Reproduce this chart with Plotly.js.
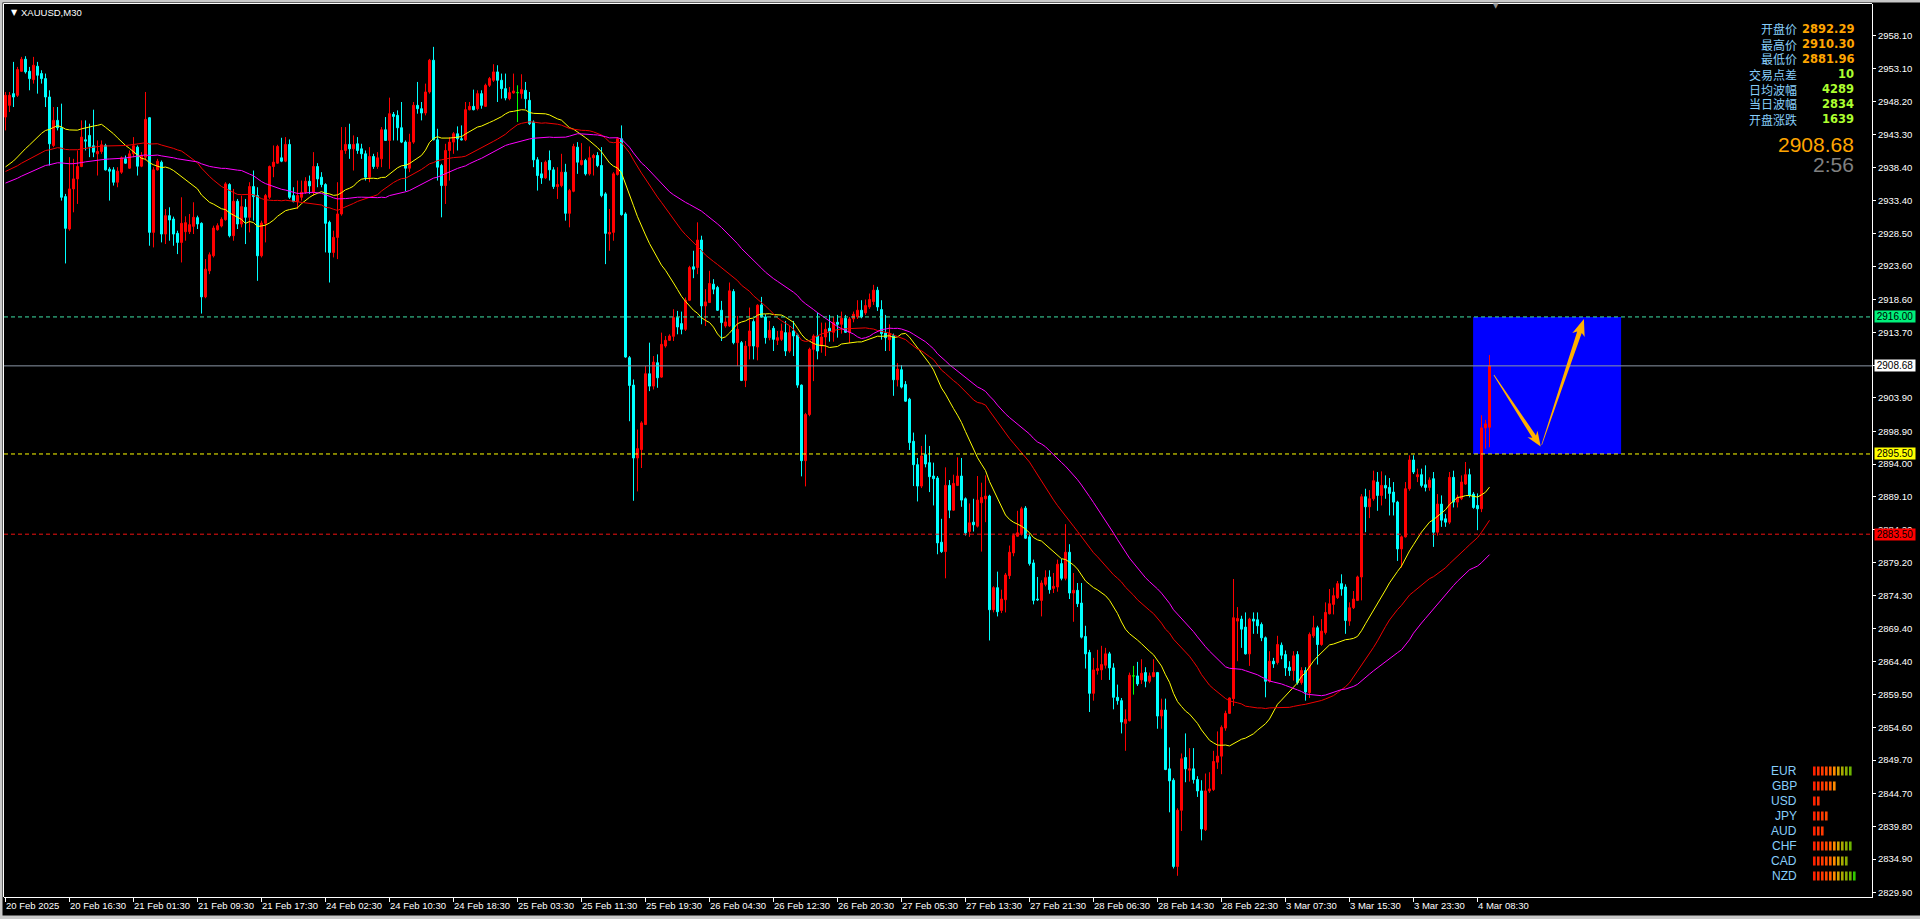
<!DOCTYPE html>
<html><head><meta charset="utf-8">
<script src="https://cdn.plot.ly/plotly-3.0.1.min.js"></script>
<style>html,body{margin:0;padding:0;background:#000;overflow:hidden}#chart{width:1920px;height:919px}</style>
</head><body><div id="chart"></div>
<script>
// ---------------- DATA ----------------
const openP = [
2945.9,2947.65,2949.4,2949.15,2952.75,2954.55,2952.75,2951.5,2953.5,2952.4,
2951.65,2948.9,2941.65,2945.4,2944.3,2934.0,2929.15,2935.15,2936.65,2938.5,
2942.5,2943.15,2941.6,2940.4,2940.75,2941.65,2938.1,2938.0,2936.15,2937.65,
2939.65,2938.25,2940.4,2941.4,2938.55,2939.9,2945.8,2928.65,2938.0,2939.15,
2928.4,2931.15,2930.65,2928.5,2927.15,2928.75,2928.75,2929.55,2930.85,2930.0,
2919.0,2922.9,2925.15,2929.05,2929.6,2930.55,2935.8,2928.15,2933.3,2929.9,
2932.4,2930.9,2935.5,2934.15,2925.15,2930.0,2933.9,2938.5,2939.0,2939.8,
2939.3,2941.8,2934.15,2933.25,2933.9,2934.65,2936.3,2934.65,2938.5,2936.9,
2935.8,2930.15,2925.65,2927.9,2931.4,2940.9,2941.8,2941.15,2941.9,2941.15,
2940.4,2936.9,2940.0,2938.5,2939.65,2944.0,2942.4,2946.3,2946.15,2944.3,
2942.15,2938.25,2942.15,2947.65,2947.15,2946.5,2949.65,2954.4,2942.5,2938.65,
2935.65,2940.9,2942.15,2943.4,2942.65,2942.5,2947.0,2947.5,2947.15,2949.4,
2947.5,2950.65,2951.4,2952.65,2951.4,2950.15,2948.65,2949.5,2949.55,2949.4,
2949.9,2948.4,2945.15,2939.5,2937.4,2936.8,2939.4,2938.0,2935.5,2935.65,
2937.65,2931.5,2934.8,2941.4,2938.8,2939.4,2937.4,2939.8,2940.15,2938.65,
2934.4,2928.4,2928.65,2937.3,2942.65,2931.4,2909.9,2905.8,2894.9,2896.15,
2899.9,2907.5,2905.65,2909.15,2907.0,2911.65,2912.5,2913.1,2915.9,2915.0,
2914.15,2918.5,2923.5,2923.4,2927.5,2917.65,2918.15,2920.9,2920.4,2917.0,
2914.65,2914.65,2919.8,2912.15,2912.15,2906.5,2911.65,2915.3,2911.5,2917.8,
2916.0,2912.9,2914.3,2912.5,2912.65,2913.65,2910.9,2913.9,2913.3,2905.8,
2894.5,2901.4,2911.15,2913.15,2911.65,2913.0,2914.3,2913.7,2915.2,2914.9,
2915.8,2913.7,2915.7,2916.0,2917.0,2916.6,2917.5,2918.3,2920.0,2917.1,
2913.6,2912.6,2913.2,2906.6,2908.1,2905.9,2903.7,2897.4,2893.9,2890.7,
2895.4,2894.2,2892.2,2891.9,2882.3,2880.9,2890.8,2887.1,2890.8,2892.2,
2888.8,2883.9,2885.3,2884.7,2888.2,2888.8,2889.2,2872.2,2875.5,2872.1,
2873.7,2877.3,2880.7,2883.2,2883.6,2887.4,2883.1,2879.2,2873.8,2873.6,
2876.0,2877.1,2875.4,2875.6,2879.1,2876.9,2880.8,2874.7,2875.1,2873.2,
2868.2,2865.8,2859.7,2863.1,2863.2,2863.9,2865.6,2863.5,2859.1,2858.6,
2855.2,2855.6,2862.3,2862.3,2861.7,2862.8,2861.5,2862.2,2862.8,2856.3,
2857.2,2848.4,2846.7,2833.8,2842.2,2850.1,2848.2,2848.4,2846.8,2845.1,
2839.3,2845.1,2845.3,2849.4,2850.3,2854.5,2856.7,2858.9,2870.5,2870.8,
2869.6,2865.6,2870.8,2870.7,2870.0,2868.0,2861.5,2864.5,2864.3,2866.9,
2865.5,2863.6,2863.1,2865.5,2861.3,2863.1,2859.8,2868.3,2869.5,2867.0,
2868.8,2871.6,2873.0,2874.0,2876.1,2875.6,2870.5,2872.5,2873.6,2877.1,
2889.1,2887.6,2888.8,2891.3,2889.3,2890.8,2890.5,2889.8,2888.3,2881.3,
2883.1,2890.3,2894.6,2892.1,2892.4,2890.9,2890.5,2891.8,2883.8,2888.0,
2885.8,2885.3,2892.0,2888.3,2888.8,2891.0,2892.4,2889.5,2887.8,2887.3,
2899.4,2899.5];
const highP = [
2949.65,2949.65,2954.15,2953.4,2954.9,2955.0,2953.4,2954.9,2954.15,2952.9,
2952.4,2949.9,2947.4,2947.4,2947.9,2934.4,2939.9,2939.65,2940.9,2945.4,
2945.4,2944.9,2947.0,2942.4,2942.4,2941.9,2938.4,2938.4,2938.4,2940.0,
2940.15,2940.9,2942.9,2941.65,2940.65,2949.65,2945.9,2938.4,2939.65,2939.4,
2932.15,2932.4,2931.0,2928.9,2933.9,2931.05,2931.4,2933.15,2931.15,2930.15,
2924.65,2925.65,2929.65,2930.0,2930.9,2936.15,2936.0,2935.15,2933.65,2934.15,
2933.65,2936.15,2937.9,2935.4,2930.4,2934.4,2938.65,2941.65,2941.75,2942.8,
2942.9,2942.55,2935.4,2936.4,2936.4,2936.9,2937.15,2940.65,2939.0,2937.65,
2936.0,2930.4,2928.9,2936.15,2944.4,2944.4,2944.9,2943.15,2942.9,2941.9,
2940.9,2941.4,2940.4,2940.65,2944.4,2945.9,2948.8,2946.65,2946.9,2948.15,
2942.4,2943.4,2948.15,2951.15,2948.15,2950.9,2954.6,2956.4,2944.15,2938.9,
2941.9,2942.9,2943.65,2944.5,2944.65,2948.15,2948.15,2950.0,2949.9,2949.9,
2950.9,2951.9,2953.8,2953.65,2952.4,2952.4,2950.4,2952.4,2950.65,2952.3,
2951.15,2949.65,2945.4,2939.9,2939.15,2939.4,2940.9,2938.4,2938.4,2940.4,
2938.9,2935.15,2941.9,2942.15,2942.0,2939.65,2941.5,2940.4,2940.65,2941.4,
2934.65,2932.15,2937.65,2942.9,2944.65,2931.65,2910.15,2906.65,2899.15,2900.4,
2908.65,2912.15,2910.15,2910.4,2913.65,2913.15,2913.4,2917.15,2916.9,2916.8,
2918.9,2923.65,2925.9,2930.15,2928.15,2920.15,2922.9,2921.65,2920.65,2918.4,
2915.9,2921.15,2920.15,2916.15,2912.4,2912.4,2917.4,2915.65,2917.9,2919.0,
2916.4,2915.4,2914.65,2913.9,2915.0,2915.4,2914.65,2915.4,2913.5,2905.9,
2901.65,2911.4,2913.4,2916.65,2915.15,2915.15,2916.3,2916.0,2916.3,2916.8,
2916.3,2916.0,2916.8,2918.5,2918.5,2918.6,2919.5,2920.8,2920.5,2918.5,
2916.3,2914.9,2913.5,2909.1,2908.8,2906.4,2903.9,2898.7,2894.9,2896.7,
2898.4,2896.7,2894.2,2892.2,2885.8,2893.5,2891.6,2892.4,2895.0,2894.9,
2889.0,2888.1,2888.8,2892.2,2891.2,2892.3,2889.4,2875.7,2877.9,2875.2,
2877.7,2881.8,2883.6,2887.0,2887.6,2887.7,2883.6,2879.7,2877.1,2876.6,
2878.1,2878.1,2877.7,2879.7,2879.8,2885.0,2882.0,2877.7,2876.2,2876.2,
2869.8,2866.2,2865.0,2866.2,2866.8,2866.5,2865.9,2864.2,2861.0,2859.0,
2857.3,2862.8,2863.8,2864.4,2864.8,2863.6,2862.8,2864.8,2862.9,2858.9,
2858.9,2851.6,2847.0,2842.5,2850.7,2853.7,2851.5,2851.5,2847.3,2846.7,
2847.7,2847.9,2851.1,2854.0,2854.9,2857.1,2859.1,2876.8,2872.6,2871.3,
2871.8,2871.0,2871.8,2871.8,2870.3,2868.2,2866.0,2865.0,2868.3,2867.3,
2866.1,2864.5,2866.0,2866.0,2863.6,2863.6,2868.8,2871.3,2869.8,2870.8,
2873.3,2875.3,2875.5,2876.5,2877.5,2876.0,2873.3,2875.0,2877.3,2889.5,
2890.3,2890.1,2893.0,2892.8,2892.9,2892.3,2891.9,2891.3,2888.5,2883.3,
2891.3,2895.3,2895.3,2893.3,2893.3,2893.8,2892.0,2892.8,2889.5,2889.3,
2886.5,2892.8,2893.0,2889.4,2892.3,2894.3,2893.3,2889.8,2889.6,2901.3,
2900.6,2910.3];
const lowP = [
2943.9,2946.65,2947.4,2948.9,2952.65,2952.4,2949.9,2950.9,2949.4,2950.9,
2947.4,2938.65,2941.4,2943.9,2933.4,2924.0,2928.9,2931.65,2932.9,2938.4,
2940.9,2939.9,2939.9,2937.15,2940.4,2937.9,2933.4,2935.65,2935.4,2937.4,
2938.9,2938.15,2939.9,2937.15,2938.4,2939.4,2926.65,2926.4,2937.9,2927.15,
2926.9,2927.4,2926.65,2925.4,2924.15,2927.4,2928.4,2928.4,2929.15,2916.5,
2918.8,2922.4,2924.9,2928.9,2929.4,2930.4,2927.9,2927.4,2929.15,2929.4,
2926.9,2928.65,2930.4,2921.4,2924.9,2927.15,2933.65,2936.9,2938.9,2939.15,
2939.15,2933.65,2933.15,2932.15,2933.4,2934.4,2934.4,2934.15,2935.4,2935.4,
2925.65,2921.15,2924.9,2924.65,2931.15,2940.4,2939.65,2937.9,2940.4,2939.65,
2936.4,2936.15,2938.15,2938.15,2938.4,2942.4,2938.15,2942.4,2942.4,2942.0,
2934.8,2937.65,2941.9,2946.4,2945.4,2946.15,2949.4,2942.4,2936.4,2930.9,
2932.9,2936.4,2940.4,2940.9,2942.4,2942.3,2946.9,2946.9,2946.9,2947.15,
2947.4,2950.4,2951.15,2948.15,2948.65,2948.4,2948.4,2949.4,2945.15,2948.65,
2947.15,2944.7,2938.4,2934.9,2935.9,2936.65,2936.4,2935.15,2933.65,2935.4,
2930.4,2929.4,2934.65,2937.4,2938.65,2937.15,2937.15,2937.15,2938.4,2933.9,
2923.9,2925.9,2927.4,2937.15,2931.15,2909.9,2900.4,2888.5,2889.9,2893.4,
2899.9,2904.9,2905.15,2905.4,2906.9,2911.4,2912.4,2912.4,2913.4,2913.4,
2913.9,2918.4,2921.8,2922.4,2914.9,2914.65,2918.15,2919.4,2916.9,2912.4,
2914.4,2914.5,2911.9,2908.65,2906.4,2905.5,2909.65,2909.65,2909.5,2915.9,
2912.0,2912.5,2910.9,2911.8,2912.4,2910.15,2910.65,2910.15,2905.4,2892.15,
2890.65,2901.15,2906.4,2909.65,2910.65,2910.15,2912.3,2912.3,2912.9,2913.5,
2913.6,2912.1,2915.2,2915.7,2915.8,2916.3,2917.2,2917.8,2916.9,2912.6,
2910.9,2910.9,2904.2,2905.6,2905.3,2903.3,2896.1,2890.7,2888.4,2890.4,
2893.5,2889.8,2887.8,2880.5,2880.7,2876.9,2885.9,2887.0,2890.7,2887.6,
2883.3,2883.1,2883.9,2884.5,2880.9,2885.3,2867.6,2871.8,2871.2,2871.7,
2871.8,2876.8,2880.2,2883.1,2883.3,2882.8,2878.8,2873.0,2873.5,2871.2,
2875.7,2874.6,2874.7,2874.9,2876.6,2876.6,2873.8,2870.4,2872.6,2867.9,
2863.4,2856.9,2858.6,2862.5,2861.7,2863.4,2861.7,2857.3,2858.0,2853.7,
2851.1,2855.5,2859.5,2860.8,2861.1,2860.6,2861.2,2862.1,2854.4,2854.4,
2848.2,2841.9,2833.5,2832.4,2839.1,2846.4,2846.5,2846.2,2844.2,2837.7,
2839.1,2844.8,2845.1,2848.4,2847.6,2854.1,2856.6,2857.8,2864.5,2866.5,
2865.5,2863.8,2868.6,2868.6,2867.5,2859.1,2861.3,2863.5,2864.0,2864.8,
2862.3,2862.3,2861.6,2861.0,2861.0,2858.6,2859.0,2868.0,2864.0,2866.8,
2868.5,2871.5,2871.5,2873.8,2874.3,2868.6,2869.8,2872.3,2873.5,2873.6,
2883.8,2885.9,2888.5,2887.0,2887.8,2888.8,2886.3,2886.3,2879.5,2878.5,
2883.0,2890.0,2892.5,2891.3,2890.5,2889.9,2890.0,2881.6,2883.3,2884.6,
2884.6,2885.0,2887.5,2887.5,2888.6,2890.9,2889.0,2887.3,2884.1,2886.8,
2896.3,2896.5];
const closeP = [
2949.15,2949.15,2948.9,2953.0,2954.55,2952.65,2951.65,2953.65,2952.15,2951.65,
2948.9,2941.9,2945.4,2944.3,2933.9,2929.25,2935.15,2936.65,2938.5,2942.9,
2942.3,2941.5,2940.65,2940.75,2941.75,2938.0,2937.8,2936.15,2937.8,2939.8,
2939.0,2940.4,2941.6,2938.55,2940.15,2945.55,2928.65,2938.0,2939.3,2928.4,
2931.15,2930.5,2928.4,2927.15,2930.0,2930.1,2929.8,2930.9,2929.9,2919.0,
2923.15,2925.3,2929.3,2929.65,2930.6,2935.9,2928.15,2933.3,2929.9,2932.5,
2930.9,2935.5,2934.0,2925.15,2930.05,2934.15,2938.5,2939.15,2941.5,2939.3,
2941.8,2933.9,2933.25,2934.15,2934.65,2936.3,2935.6,2938.5,2936.65,2935.8,
2930.0,2925.65,2927.9,2931.4,2940.9,2941.8,2941.15,2941.8,2940.9,2940.4,
2936.9,2940.0,2938.5,2939.8,2944.0,2942.4,2946.4,2946.0,2944.3,2942.15,
2938.25,2942.15,2947.65,2947.15,2946.5,2949.65,2954.4,2942.5,2938.4,2935.65,
2940.9,2942.15,2943.4,2942.65,2942.5,2947.0,2947.5,2947.0,2949.4,2947.65,
2950.65,2951.65,2952.65,2951.4,2950.15,2948.75,2949.55,2949.8,2949.55,2950.0,
2948.65,2944.9,2939.5,2937.15,2936.8,2939.15,2938.0,2935.5,2935.8,2937.65,
2931.5,2934.9,2941.5,2939.15,2939.4,2937.4,2939.8,2940.15,2938.65,2934.15,
2928.5,2928.65,2937.4,2942.65,2931.3,2910.0,2905.75,2894.9,2896.3,2900.15,
2907.5,2905.65,2909.25,2906.9,2911.9,2912.5,2913.15,2915.9,2914.5,2914.15,
2918.5,2923.4,2923.15,2927.5,2917.65,2918.25,2921.0,2920.15,2917.0,2915.15,
2915.25,2919.9,2912.15,2914.15,2906.5,2911.65,2913.9,2911.65,2917.75,2916.0,
2912.9,2914.0,2912.65,2912.9,2913.9,2910.9,2913.65,2913.15,2905.8,2894.5,
2901.4,2911.15,2913.15,2910.9,2913.0,2914.15,2913.8,2915.2,2914.9,2915.8,
2913.7,2915.7,2916.4,2917.0,2916.0,2917.7,2918.6,2920.0,2917.5,2913.5,
2912.9,2913.5,2906.6,2908.2,2905.5,2903.4,2897.2,2893.9,2890.7,2895.2,
2894.0,2892.1,2891.8,2882.2,2880.9,2890.8,2887.1,2891.1,2892.2,2888.6,
2883.7,2885.2,2884.9,2888.6,2889.0,2889.2,2872.2,2875.5,2871.9,2873.8,
2877.4,2880.8,2883.3,2883.7,2887.3,2882.9,2879.1,2873.6,2873.7,2876.2,
2877.0,2875.2,2875.7,2879.0,2876.9,2880.8,2874.7,2875.1,2873.1,2868.1,
2865.6,2859.7,2863.2,2863.4,2864.0,2865.6,2863.5,2859.1,2858.6,2855.4,
2855.8,2862.4,2862.3,2861.1,2862.7,2861.5,2862.3,2862.8,2856.3,2857.2,
2848.3,2846.6,2833.8,2842.2,2849.9,2848.4,2848.4,2846.8,2845.1,2839.4,
2845.1,2845.4,2849.5,2850.3,2854.6,2856.7,2859.0,2871.0,2870.9,2869.3,
2865.6,2870.8,2870.5,2869.8,2868.0,2861.5,2864.5,2864.1,2867.0,2865.4,
2863.5,2863.1,2865.3,2861.3,2863.1,2859.9,2868.5,2869.5,2867.0,2869.0,
2871.8,2873.1,2874.3,2876.1,2875.3,2870.6,2872.5,2873.8,2877.1,2889.1,
2887.6,2888.8,2891.5,2889.3,2890.8,2890.4,2889.6,2888.3,2881.3,2883.1,
2890.3,2894.6,2892.8,2892.4,2890.8,2890.5,2891.6,2883.8,2888.0,2885.6,
2885.3,2892.0,2888.3,2889.0,2891.3,2892.4,2889.3,2887.5,2887.3,2899.4,
2900.0,2908.68];

const timeLabels = ['20 Feb 2025','20 Feb 16:30','21 Feb 01:30','21 Feb 09:30','21 Feb 17:30','24 Feb 02:30',
 '24 Feb 10:30','24 Feb 18:30','25 Feb 03:30','25 Feb 11:30','25 Feb 19:30','26 Feb 04:30','26 Feb 12:30',
 '26 Feb 20:30','27 Feb 05:30','27 Feb 13:30','27 Feb 21:30','28 Feb 06:30','28 Feb 14:30','28 Feb 22:30',
 '3 Mar 07:30','3 Mar 15:30','3 Mar 23:30','4 Mar 08:30'];
const barsPerLabel = 16;
const priceTicks = [2958.10,2953.10,2948.20,2943.30,2938.40,2933.40,2928.50,2923.60,2918.60,2913.70,2908.80,
 2903.90,2898.90,2894.00,2889.10,2884.20,2879.20,2874.30,2869.40,2864.40,2859.50,2854.60,2849.70,2844.70,
 2839.80,2834.90,2829.90];

// moving averages: period and estimated mean of the unseen earlier closes
const maPeriods = [25, 45, 60];
const maPriorMeans = [2938.0, 2937.5, 2935.8];
const maColors = ['#ffff00', '#f00000', '#ff00ff'];

// horizontal lines
const hLinePrices = [2916.00, 2908.68, 2895.50, 2883.50];
const hLineColors = ['#3ee0a6', '#8c96a6', '#ffff00', '#f01010'];
const hLineLabelBg = ['#00f07a', '#ffffff', '#ffff00', '#ff0000'];
const hLineDash = ['4px,3px', 'solid', '4px,3px', '4px,3px'];

// zone rectangle (bar index, price)
const zoneBars = [366.9, 403.9];
const zonePrices = [2895.5, 2916.0];
// arrows: [tailBar, tailPrice, tipBar, tipPrice]
const arrow1 = [372.1, 2907.3, 383.8, 2896.6];
const arrow2 = [384.05, 2896.85, 394.6, 2915.7];

// info panel
const infoLabels = ['开盘价','最高价','最低价','交易点差','日均波幅','当日波幅','开盘涨跌'];
const infoValues = ['2892.29','2910.30','2881.96','10','4289','2834','1639'];
const infoValueColors = ['#ffa500','#ffa500','#ffa500','#adff2f','#adff2f','#adff2f','#adff2f'];
const bidPrice = '2908.68';
const barTimer = '2:56';

// currency strength
const currencies = ['EUR','GBP','USD','JPY','AUD','CHF','CAD','NZD'];
const strength = [10,6,2,4,3,10,9,11];
const strengthColors = ['#ff2200','#ff3000','#ff3a00','#ff4800','#ff6000','#ff8c00','#d2a400','#a8aa00','#88aa00','#6cb400','#33c800'];

// ---------------- GEOMETRY ----------------
const W = 1920, H = 919;
const M = {l: 4, r: 48, t: 4, b: 22};
const PW = W - M.l - M.r, PH = H - M.t - M.b;
const xr = [-0.375, 466.625];
const yr = [2829.23, 2962.81];
const PX = x => (x - M.l) / PW;
const PY = y => 1 - (y - M.t) / PH;
const Xp = b => M.l + (b - xr[0]) * PW / (xr[1] - xr[0]);
const Yp = p => M.t + (yr[1] - p) * PH / (yr[1] - yr[0]);
const Bx = x => xr[0] + (x - M.l) * (xr[1] - xr[0]) / PW;
const Py = y => yr[1] - (y - M.t) * (yr[1] - yr[0]) / PH;

const n = closeP.length;
if (openP.length !== n || highP.length !== n || lowP.length !== n) {
  throw new Error('length mismatch ' + [openP.length, highP.length, lowP.length, n].join(','));
}
const idx = closeP.map((_, i) => i);

// split dojis
const isDoji = idx.map(i => openP[i] === closeP[i]);
const pick = (arr, want) => arr.map((v, i) => isDoji[i] === want ? v : null);

const traces = [];
traces.push({
  type: 'candlestick', x: idx,
  open: pick(openP, false), high: pick(highP, false), low: pick(lowP, false), close: pick(closeP, false),
  increasing: {line: {color: '#ff0000', width: 1}, fillcolor: '#ff0000'},
  decreasing: {line: {color: '#00ffff', width: 1}, fillcolor: '#00ffff'},
  whiskerwidth: 0, hoverinfo: 'skip'
});
traces.push({
  type: 'candlestick', x: idx,
  open: pick(openP, true), high: pick(highP, true), low: pick(lowP, true), close: pick(closeP, true),
  increasing: {line: {color: '#00ff00', width: 1}, fillcolor: '#00ff00'},
  decreasing: {line: {color: '#00ff00', width: 1}, fillcolor: '#00ff00'},
  whiskerwidth: 0, hoverinfo: 'skip'
});

function sma(src, period, prior) {
  return src.map((_, i) => {
    let s = 0;
    for (let k = i - period + 1; k <= i; k++) s += k < 0 ? prior : src[k];
    return s / period;
  });
}
maPeriods.forEach((p, j) => {
  traces.push({type: 'scatter', mode: 'lines', x: idx, y: sma(closeP, p, maPriorMeans[j]),
    line: {color: maColors[j], width: 1}, hoverinfo: 'skip'});
});

// ---------------- SHAPES ----------------
const shapes = [];
shapes.push({type: 'rect', xref: 'x', yref: 'y', x0: zoneBars[0], x1: zoneBars[1], y0: zonePrices[0], y1: zonePrices[1],
  fillcolor: '#0000ff', line: {width: 0}, layer: 'below'});
hLinePrices.forEach((p, j) => {
  shapes.push({type: 'line', xref: 'paper', yref: 'y', x0: 0, x1: 1, y0: p, y1: p,
    line: {color: hLineColors[j], width: 1, dash: hLineDash[j]}, layer: 'above'});
});
function taperArrow(a, w0, w1, headLen, headHalf) {
  const x0 = Xp(a[0]), y0 = Yp(a[1]), x1 = Xp(a[2]), y1 = Yp(a[3]);
  const dx = x1 - x0, dy = y1 - y0, len = Math.hypot(dx, dy);
  const ux = dx / len, uy = dy / len, nx = -uy, ny = ux;
  const bx = x1 - ux * headLen, by = y1 - uy * headLen;
  const back = 3;
  const pts = [
    [x0 + nx * w0, y0 + ny * w0],
    [bx + nx * w1, by + ny * w1],
    [bx - ux * back + nx * headHalf, by - uy * back + ny * headHalf],
    [x1, y1],
    [bx - ux * back - nx * headHalf, by - uy * back - ny * headHalf],
    [bx - nx * w1, by - ny * w1],
    [x0 - nx * w0, y0 - ny * w0]
  ];
  return 'M ' + pts.map(q => Bx(q[0]).toFixed(4) + ',' + Py(q[1]).toFixed(4)).join(' L ') + ' Z';
}
[[arrow1, 0.4, 2.2, 12, 6], [arrow2, 0.3, 2.4, 14, 6.5]].forEach(s => {
  shapes.push({type: 'path', xref: 'x', yref: 'y', path: taperArrow(s[0], s[1], s[2], s[3], s[4]),
    fillcolor: '#ffb000', line: {width: 0}, layer: 'above'});
});
const grey = '#c8c8c8';
shapes.push({type: 'rect', xref: 'paper', yref: 'paper', x0: PX(0), x1: PX(W), y0: PY(0), y1: PY(2.5), fillcolor: grey, line: {width: 0}});
shapes.push({type: 'rect', xref: 'paper', yref: 'paper', x0: PX(0), x1: PX(2.5), y0: PY(0), y1: PY(H), fillcolor: grey, line: {width: 0}});
shapes.push({type: 'rect', xref: 'paper', yref: 'paper', x0: PX(0), x1: PX(W), y0: PY(915.5), y1: PY(H), fillcolor: grey, line: {width: 0}});
shapes.push({type: 'line', xref: 'paper', yref: 'paper', x0: PX(3.5), x1: PX(1872), y0: PY(3.5), y1: PY(3.5), line: {color: '#ffffff', width: 1}});
shapes.push({type: 'line', xref: 'paper', yref: 'paper', x0: PX(3.5), x1: PX(3.5), y0: PY(3.5), y1: PY(897), line: {color: '#ffffff', width: 1}});
currencies.forEach((c, r) => {
  const yc = 771 + r * 15;
  for (let k = 0; k < strength[r]; k++) {
    const x0 = 1813 + k * 4;
    shapes.push({type: 'rect', xref: 'paper', yref: 'paper', x0: PX(x0), x1: PX(x0 + 2.6),
      y0: PY(yc - 4.5), y1: PY(yc + 4.5), fillcolor: strengthColors[k], line: {width: 0}});
  }
});

// ---------------- ANNOTATIONS ----------------
const ann = [];
const A = (o) => ann.push(Object.assign({xref: 'paper', yref: 'paper', showarrow: false}, o));
A({x: PX(9), y: PY(13), xanchor: 'left', yanchor: 'middle', text: '▼', font: {family: 'DejaVu Sans', size: 8, color: '#ffffff'}});
A({x: PX(19), y: PY(13), xanchor: 'left', yanchor: 'middle', text: 'XAUUSD,M30', font: {family: 'Liberation Sans', size: 9.5, color: '#ffffff'}});
A({x: PX(1496), y: PY(6), xanchor: 'center', yanchor: 'middle', text: '▼', font: {family: 'DejaVu Sans', size: 7, color: '#909090'}});
infoLabels.forEach((t, r) => {
  const y = 29 + r * 15;
  A({x: PX(1799), y: PY(y), xanchor: 'right', yanchor: 'middle', text: t, font: {family: 'Noto Sans CJK SC', size: 12, color: '#87cefa'}});
  A({x: PX(1856), y: PY(y), xanchor: 'right', yanchor: 'middle', text: '<b>' + infoValues[r] + '</b>', font: {family: 'DejaVu Sans', size: 11.5, color: infoValueColors[r]}});
});
A({x: PX(1856), y: PY(144), xanchor: 'right', yanchor: 'middle', text: bidPrice, font: {family: 'Liberation Sans', size: 21, color: '#ffa500'}});
A({x: PX(1856), y: PY(164.5), xanchor: 'right', yanchor: 'middle', text: barTimer, font: {family: 'Liberation Sans', size: 21, color: '#808080'}});
currencies.forEach((c, r) => {
  A({x: PX(1799), y: PY(771 + r * 15), xanchor: 'right', yanchor: 'middle', text: c, font: {family: 'Liberation Sans', size: 12, color: '#87cefa'}});
});
hLinePrices.forEach((p, j) => {
  ann.push({xref: 'paper', yref: 'y', x: PX(1874), y: p, xanchor: 'left', yanchor: 'middle', showarrow: false,
    text: p.toFixed(2), width: 40, height: 11, bgcolor: hLineLabelBg[j], borderpad: 0,
    font: {family: 'Liberation Sans', size: 10, color: '#000000'}});
});
// time labels, starting at their tick
timeLabels.forEach((t, k) => {
  ann.push({xref: 'x', yref: 'paper', x: k * barsPerLabel, y: PY(905.5), xanchor: 'left', yanchor: 'middle', xshift: -2,
    showarrow: false, text: t, font: {family: 'Liberation Sans', size: 9.5, color: '#ffffff'}});
});

// ---------------- LAYOUT ----------------
const layout = {
  width: W, height: H, autosize: false,
  margin: {l: M.l, r: M.r, t: M.t, b: M.b, pad: 0},
  paper_bgcolor: '#000000', plot_bgcolor: '#000000',
  showlegend: false, hovermode: false, dragmode: false,
  boxgap: 0.5, boxgroupgap: 0,
  xaxis: {
    range: xr, showgrid: false, zeroline: false, showline: true, linecolor: '#ffffff', linewidth: 1,
    ticks: 'outside', ticklen: 4, tickcolor: '#ffffff', tickwidth: 1,
    tickmode: 'array', tickvals: timeLabels.map((_, k) => k * barsPerLabel), showticklabels: false,
    rangeslider: {visible: false}, fixedrange: true
  },
  yaxis: {
    side: 'right', range: yr, showgrid: false, zeroline: false, showline: true, linecolor: '#ffffff', linewidth: 1,
    ticks: 'outside', ticklen: 3, tickcolor: '#ffffff', tickwidth: 1,
    tickmode: 'array', tickvals: priceTicks, ticktext: priceTicks.map(v => v.toFixed(2)),
    tickfont: {family: 'Liberation Sans', size: 9.5, color: '#ffffff'}, fixedrange: true
  },
  shapes: shapes,
  annotations: ann
};

Plotly.newPlot('chart', traces, layout, {displayModeBar: false, staticPlot: true});
</script>
</body></html>
